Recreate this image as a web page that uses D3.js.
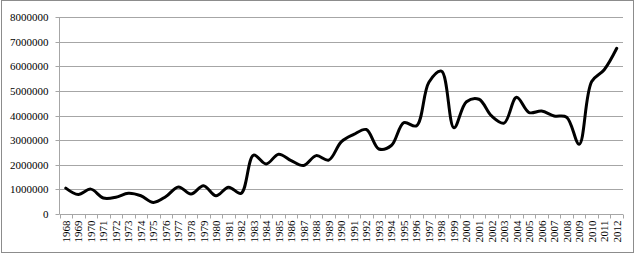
<!DOCTYPE html>
<html><head><meta charset="utf-8">
<script src="https://cdn.jsdelivr.net/npm/d3@7"></script>
<style>html,body{margin:0;padding:0;background:#fff;}svg{display:block;}</style>
</head><body>
<script>
const years = ["1968","1969","1970","1971","1972","1973","1974","1975","1976","1977","1978","1979","1980","1981","1982","1983","1984","1985","1986","1987","1988","1989","1990","1991","1992","1993","1994","1995","1996","1997","1998","1999","2000","2001","2002","2003","2004","2005","2006","2007","2008","2009","2010","2011","2012"];
const values = [1050000,790000,1010000,650000,680000,840000,740000,470000,710000,1100000,810000,1150000,740000,1090000,840000,2390000,2030000,2430000,2170000,1970000,2370000,2190000,2930000,3230000,3430000,2640000,2780000,3710000,3580000,5350000,5800000,3500000,4560000,4660000,3980000,3690000,4740000,4120000,4180000,3980000,3930000,2830000,5380000,5860000,6730000];
const yTicks = [0,1000000,2000000,3000000,4000000,5000000,6000000,7000000,8000000];

(function(){
const W = 640, H = 254;
const svg = d3.select("body").append("svg").attr("width", W).attr("height", H);
svg.append("rect").attr("x",1.5).attr("y",0.5).attr("width",632).attr("height",252)
  .attr("fill","#fff").attr("stroke","#8c8c8c").attr("stroke-width",1);

const pl = 59.5, pr = 623, pt = 17, pb = 214;
const x = d3.scaleBand().domain(years).range([pl, pr]).paddingInner(0).paddingOuter(0);
const y = d3.scaleLinear().domain([0, 8000000]).range([pb, pt]);
const font = "'Liberation Serif','Times New Roman',serif";

svg.append("g").selectAll("line").data(yTicks.slice(1)).join("line")
  .attr("x1", pl).attr("x2", pr)
  .attr("y1", d => Math.round(y(d)) + 0.5).attr("y2", d => Math.round(y(d)) + 0.5)
  .attr("stroke", "#a6a6a6").attr("stroke-width", 1);

const ya = svg.append("g").attr("transform", `translate(${pl},0)`)
  .call(d3.axisLeft(y).tickValues(yTicks).tickSize(4).tickPadding(7).tickFormat(d3.format("d")));
ya.selectAll("path,line").attr("stroke", "#a6a6a6");
ya.selectAll("text").attr("font-family", font).attr("font-size", 11).attr("fill", "#000");
ya.select(".domain").attr("d", `M0,${pt}V${pb}`);
ya.selectAll(".tick").attr("transform", d => `translate(0,${Math.round(y(d)) + 0.5})`);

const xa = svg.append("g").attr("transform", `translate(0,${pb + 0.5})`);
xa.append("line").attr("x1", pl).attr("x2", pr).attr("stroke", "#a6a6a6");
xa.selectAll("line.tk").data(years.concat(["end"])).join("line").attr("class","tk")
  .attr("x1", (d,i) => Math.round(pl + i * x.bandwidth()) + 0.5)
  .attr("x2", (d,i) => Math.round(pl + i * x.bandwidth()) + 0.5)
  .attr("y1", 0).attr("y2", 4).attr("stroke", "#a6a6a6");
xa.selectAll("text").data(years).join("text")
  .attr("transform", d => `translate(${x(d) + x.bandwidth()/2 + 4},6) rotate(-90)`)
  .attr("text-anchor", "end")
  .attr("font-family", font).attr("font-size", 11).attr("fill", "#000")
  .text(d => d);

const line = d3.line()
  .x((d,i) => x(years[i]) + x.bandwidth()/2)
  .y(d => y(d))
  .curve(d3.curveCatmullRom.alpha(0.5));
svg.append("path").datum(values).attr("d", line)
  .attr("fill", "none").attr("stroke", "#000").attr("stroke-width", 3)
  .attr("stroke-linejoin", "round").attr("stroke-linecap", "round");
})();
</script>
</body></html>
